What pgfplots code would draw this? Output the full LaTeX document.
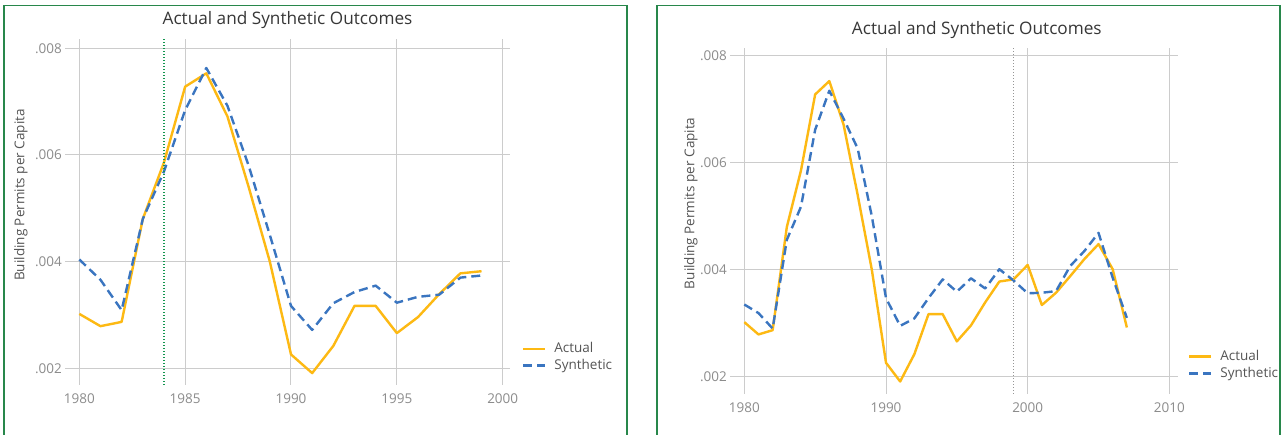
\documentclass[border=0pt]{standalone}
\usepackage{fontspec}
\setmainfont{Open Sans}
\usepackage{pgfplots}
\pgfplotsset{compat=1.18}
\definecolor{actual}{RGB}{253,185,19}
\definecolor{synth}{RGB}{58,117,192}
\definecolor{gridc}{RGB}{204,204,204}
\definecolor{tickc}{RGB}{140,140,140}
\definecolor{titlec}{RGB}{55,55,55}
\definecolor{labc}{RGB}{85,85,85}
\definecolor{framec}{RGB}{40,135,75}
\definecolor{vgreen}{RGB}{20,150,80}
\definecolor{vgray}{RGB}{150,150,150}

\pgfplotsset{
  panel/.style={
    scale only axis, anchor=south west,
    axis line style={draw=none}, major tick length=0pt,
    grid=major, major grid style={draw=gridc, line width=1bp},
    tick label style={font=\fontsize{13.5bp}{16bp}\selectfont, text=tickc, inner sep=0pt},
    xticklabel style={anchor=north, yshift=-9bp},
    yticklabel style={anchor=east, xshift=-3bp},
    ytick={0.002,0.004,0.006,0.008}, yticklabels={.002,.004,.006,.008},
    scaled y ticks=false,
    title style={font=\fontsize{17.2bp}{20bp}\selectfont, text=titlec, anchor=base, inner sep=0pt},
    ylabel style={font=\fontsize{13.5bp}{16bp}\selectfont, text=labc, anchor=north, inner sep=0pt},
    legend style={draw=none, fill=none, font=\fontsize{13.5bp}{16bp}\selectfont, text=labc,
      anchor=west, inner sep=0pt, outer sep=0pt, row sep=4.7bp, column sep=8bp,
      nodes={inner sep=0pt, text height=10bp, text depth=2bp}},
    legend cell align=left,
    legend image code/.code={\draw[##1] (0bp,0bp) -- (22bp,0bp);},
    ylabel={Building Permits per Capita},
    title={Actual and Synthetic Outcomes},
  },
  act/.style={color=actual, line width=2.4bp, line join=round},
  syn/.style={color=synth, line width=2.4bp, dash pattern=on 9bp off 5bp, line join=round},
}

\pgfplotstableread{
year a
1980 0.00302
1981 0.00279
1982 0.00287
1983 0.00480
1984 0.00586
1985 0.00728
1986 0.00753
1987 0.00672
1988 0.00540
1989 0.00400
1990 0.00226
1991 0.00191
1992 0.00242
1993 0.00317
1994 0.00317
1995 0.00266
1996 0.00296
1997 0.00339
1998 0.00378
1999 0.00382
2000 0.00409
2001 0.00334
2002 0.00357
2003 0.00388
2004 0.00420
2005 0.00448
2006 0.00401
2007 0.00292
}\actualtab

\pgfplotstableread{
year a
1980 0.00302
1981 0.00279
1982 0.00287
1983 0.00480
1984 0.00586
1985 0.00728
1986 0.00753
1987 0.00672
1988 0.00540
1989 0.00400
1990 0.00226
1991 0.00191
1992 0.00242
1993 0.00317
1994 0.00317
1995 0.00266
1996 0.00296
1997 0.00339
1998 0.00378
1999 0.00382
}\actualleft

\pgfplotstableread{
year s
1980 0.00404
1981 0.00366
1982 0.00309
1983 0.00480
1984 0.00569
1985 0.00684
1986 0.00763
1987 0.00692
1988 0.00580
1989 0.00450
1990 0.00317
1991 0.00272
1992 0.00322
1993 0.00343
1994 0.00355
1995 0.00323
1996 0.00334
1997 0.00338
1998 0.00370
1999 0.00374
}\synleft

\pgfplotstableread{
year s
1980 0.00335
1981 0.00319
1982 0.00290
1983 0.00456
1984 0.00518
1985 0.00662
1986 0.00735
1987 0.00683
1988 0.00627
1989 0.00500
1990 0.00347
1991 0.00295
1992 0.00309
1993 0.00347
1994 0.00382
1995 0.00359
1996 0.00384
1997 0.00365
1998 0.00401
1999 0.00380
2000 0.00356
2001 0.00357
2002 0.00360
2003 0.00407
2004 0.00435
2005 0.00469
2006 0.00385
2007 0.00310
}\synright

\begin{document}
\begin{tikzpicture}[x=1bp,y=1bp]
\useasboundingbox (0,0) rectangle (1281,435);
\fill[white] (0,0) rectangle (1281,435);
% panel frames
\draw[framec, line width=1.5bp] (4,-2) -- (4,429.3) -- (627,429.3) -- (627,-2);
\draw[framec, line width=1.5bp] (657,-2) -- (657,429.3) -- (1280,429.3) -- (1280,-2);

% left panel
\begin{axis}[panel, at={(65bp,50bp)}, width=445bp, height=346bp,
  xmin=1979.325, xmax=2000.345, ymin=0.001687, ymax=0.008174,
  xtick={1980,1985,1990,1995,2000}, xticklabels={1980,1985,1990,1995,2000},
  title style={at={(axis description cs:0.5,1)}, yshift=8.3bp},
  ylabel style={at={(axis description cs:-0.1146,0.549)}},
  legend style={at={(axis description cs:1.027,0.080)}},
]
\addplot[act] table[x=year,y=a] {\actualleft};
\addplot[syn] table[x=year,y=s] {\synleft};
\legend{Actual,Synthetic}
\addplot[vgreen, line width=1.3bp, dash pattern=on 1.3bp off 1.7bp, forget plot] coordinates {(1984,0.001687) (1984,0.008174)};
\end{axis}

% right panel
\begin{axis}[panel, at={(730bp,41bp)}, width=448bp, height=346.3bp,
  xmin=1978.99, xmax=2010.61, ymin=0.001676, ymax=0.008155,
  xtick={1980,1990,2000,2010}, xticklabels={1980,1990,2000,2010},
  title style={at={(axis description cs:0.5,1)}, xshift=22.8bp, yshift=7bp},
  ylabel style={at={(axis description cs:-0.1027,0.5507)}},
  legend style={at={(axis description cs:1.0223,0.0837)}},
]
\addplot[act] table[x=year,y=a] {\actualtab};
\addplot[syn] table[x=year,y=s] {\synright};
\legend{Actual,Synthetic}
\addplot[vgray, line width=1.2bp, dash pattern=on 1.2bp off 1.8bp, forget plot] coordinates {(1999,0.001676) (1999,0.008155)};
\end{axis}
\end{tikzpicture}
\end{document}
